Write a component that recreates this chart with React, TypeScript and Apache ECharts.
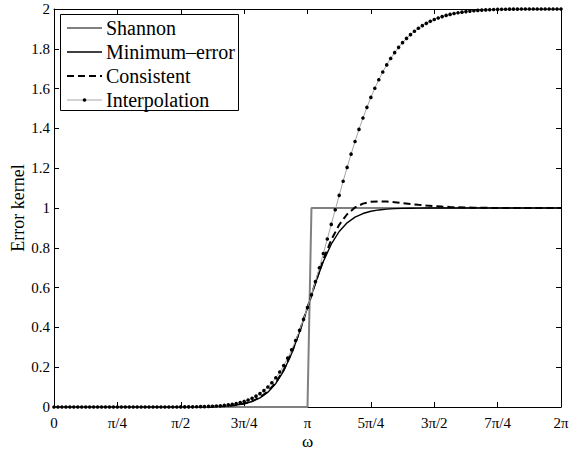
import React, { useEffect, useRef } from "react";
import * as echarts from "echarts";

// ---------- data ----------
const xTickLabels = ["0", "π/4", "π/2", "3π/4", "π", "5π/4", "3π/2", "7π/4", "2π"];
const yTickLabels = ["0", "0.2", "0.4", "0.6", "0.8", "1", "1.2", "1.4", "1.6", "1.8", "2"];
const seriesNames = ["Shannon", "Minimum–error", "Consistent", "Interpolation"];

// Shannon: breakpoints on the π/64 sampling grid (grid index) and their values
const shannonGridIndex = [0, 64, 65, 128];
const shannonValues = [0, 0, 1, 1];

// Minimum-error kernel, 65 samples from 0 to 2π (step π/32)
const minimumErrorValues = [
  0, 0, 0, 0, 0, 0, 0, 0,
  0, 0, 0, 0, 0, 0, 0, 0,
  0.00016, 0.0003, 0.00056, 0.00101, 0.00187, 0.00323, 0.00565, 0.00974,
  0.01652, 0.02777, 0.04588, 0.0745, 0.11818, 0.18187, 0.26879, 0.37759,
  0.50008, 0.62255, 0.73135, 0.81825, 0.88191, 0.92558, 0.95417, 0.97228,
  0.98348, 0.99029, 0.99437, 0.99677, 0.99818, 0.99899, 0.99945, 0.99971,
  0.99985, 0.99992, 0.99996, 0.99998, 0.99999, 1, 1, 1,
  1, 1, 1, 1, 1, 1, 1, 1,
  1,
];

// Consistent kernel, 65 samples from 0 to 2π (step π/32)
const consistentValues = [
  0, 0, 0, 0, 0, 0, 0, 0,
  0, 0, 0, 0, 0, 0, 0, 0,
  0.00016, 0.0003, 0.00057, 0.00103, 0.00188, 0.00335, 0.00587, 0.01018,
  0.01737, 0.02923, 0.04829, 0.07807, 0.12283, 0.18679, 0.2726, 0.37909,
  0.50007, 0.62482, 0.74123, 0.83969, 0.91548, 0.9687, 1.00268, 1.02199,
  1.03106, 1.03355, 1.03216, 1.02876, 1.02452, 1.02018, 1.01613, 1.01257,
  1.00957, 1.00712, 1.00518, 1.00367, 1.00253, 1.0017, 1.0011, 1.00068,
  1.0004, 1.00022, 1.00011, 1.00005, 1.00002, 1, 1, 1,
  1,
];

// Interpolation kernel, 129 samples from 0 to 2π (step π/64)
const interpolationValues = [
  0, 0, 0, 0, 0, 0, 0, 0,
  0, 0, 0, 0, 0, 0, 0, 0,
  0, 0, 0, 0, 0, 0, 0, 0,
  0, 0, 0, 0, 0.0001, 0.00014, 0.0002, 0.00027,
  0.00036, 0.0005, 0.00067, 0.0009, 0.00123, 0.00162, 0.00216, 0.00285,
  0.00375, 0.00491, 0.00639, 0.00827, 0.01066, 0.01367, 0.01744, 0.02213,
  0.02794, 0.0351, 0.04384, 0.05445, 0.06723, 0.08252, 0.10064, 0.12198,
  0.14685, 0.1756, 0.20849, 0.24577, 0.28762, 0.33406, 0.38508, 0.44055,
  0.50018, 0.5636, 0.6303, 0.69972, 0.77121, 0.84403, 0.9175, 0.99088,
  1.06348, 1.13467, 1.20387, 1.27059, 1.33441, 1.39503, 1.45219, 1.50577,
  1.55567, 1.60189, 1.64448, 1.68352, 1.71916, 1.75154, 1.78084, 1.80726,
  1.83099, 1.85224, 1.8712, 1.88806, 1.90301, 1.91623, 1.92788, 1.93812,
  1.9471, 1.95493, 1.96176, 1.96768, 1.97281, 1.97721, 1.98103, 1.98428,
  1.98705, 1.98939, 1.99138, 1.99305, 1.99444, 1.99559, 1.99654, 1.99732,
  1.99795, 1.99845, 1.99885, 1.99917, 1.99941, 1.99959, 1.99973, 1.99982,
  1.9999, 1.99994, 1.99996, 1.99998, 1.99999, 2, 2, 2,
  2,
];

// ---------- styles ----------
const FONT = "Liberation Serif";
const shannonStyle = { color: "#808080", width: 2 };
const minErrStyle = { color: "#000000", width: 1.4 };
const consStyle = { color: "#000000", width: 2, dash: [7, 4] };
const interpStyle = { color: "#a6a6a6", width: 1, marker: "#000000", markerSize: 3.6 };

// x values in units of π (0..2)
const toPairs = (vals: number[]) =>
  vals.map((v, i) => [(i * 2) / (vals.length - 1), v]);

export default function App() {
  const ref = useRef<HTMLDivElement>(null);

  useEffect(() => {
    if (!ref.current) return;
    const chart = echarts.init(ref.current, undefined, { renderer: "svg" });

    const axisLineStyle = { color: "#000", width: 1 };
    const xLabelFmt = (v: number) => xTickLabels[Math.round(v / 0.25)] ?? "";
    const yLabelFmt = (v: number) => yTickLabels[Math.round(v / 0.2)] ?? "";

    const legendRows = [28, 52, 76, 100];
    const lx1 = 67;
    const lx2 = 102;
    const tx = 106;

    const option: any = {
      animation: false,
      backgroundColor: "#ffffff",
      textStyle: { fontFamily: FONT },
      grid: {
        left: 54,
        right: 11,
        top: 9,
        bottom: 43,
        containLabel: false,
        outerBoundsMode: "none",
      },
      xAxis: [
        {
          type: "value",
          min: 0,
          max: 2,
          interval: 0.25,
          position: "bottom",
          axisLine: { show: true, onZero: false, lineStyle: axisLineStyle },
          axisTick: { show: true, inside: true, length: 5, lineStyle: axisLineStyle },
          axisLabel: {
            formatter: xLabelFmt,
            color: "#000",
            fontFamily: FONT,
            fontSize: 15,
            margin: 8,
            showMinLabel: true,
            showMaxLabel: true,
          },
          splitLine: { show: false },
          name: "ω",
          nameLocation: "middle",
          nameGap: 26,
          nameMoveOverlap: false,
          nameTextStyle: { fontFamily: FONT, fontSize: 17, color: "#000" },
        },
        {
          type: "value",
          min: 0,
          max: 2,
          interval: 0.25,
          position: "top",
          axisLine: { show: true, onZero: false, lineStyle: axisLineStyle },
          axisTick: { show: true, inside: true, length: 5, lineStyle: axisLineStyle },
          axisLabel: { show: false },
          splitLine: { show: false },
        },
      ],
      yAxis: [
        {
          type: "value",
          min: 0,
          max: 2,
          interval: 0.2,
          position: "left",
          axisLine: { show: true, onZero: false, lineStyle: axisLineStyle },
          axisTick: { show: true, inside: true, length: 5, lineStyle: axisLineStyle },
          axisLabel: {
            formatter: yLabelFmt,
            color: "#000",
            fontFamily: FONT,
            fontSize: 15,
            margin: 4,
            showMinLabel: true,
            showMaxLabel: true,
          },
          splitLine: { show: false },
          name: "Error kernel",
          nameLocation: "middle",
          nameGap: 27,
          nameRotate: 90,
          nameMoveOverlap: false,
          nameTextStyle: { fontFamily: FONT, fontSize: 18, color: "#000" },
        },
        {
          type: "value",
          min: 0,
          max: 2,
          interval: 0.2,
          position: "right",
          axisLine: { show: true, onZero: false, lineStyle: axisLineStyle },
          axisTick: { show: true, inside: true, length: 5, lineStyle: axisLineStyle },
          axisLabel: { show: false },
          splitLine: { show: false },
        },
      ],
      series: [
        {
          name: seriesNames[0],
          type: "line",
          xAxisIndex: 0,
          yAxisIndex: 0,
          data: shannonGridIndex.map((g, i) => [g / 64, shannonValues[i]]),
          showSymbol: false,
          symbol: "none",
          clip: false,
          lineStyle: { color: shannonStyle.color, width: shannonStyle.width },
          z: 2,
        },
        {
          name: seriesNames[1],
          type: "line",
          xAxisIndex: 0,
          yAxisIndex: 0,
          data: toPairs(minimumErrorValues),
          symbol: "none",
          clip: false,
          lineStyle: { color: minErrStyle.color, width: minErrStyle.width },
          z: 3,
        },
        {
          name: seriesNames[2],
          type: "line",
          xAxisIndex: 0,
          yAxisIndex: 0,
          data: toPairs(consistentValues),
          symbol: "none",
          clip: false,
          lineStyle: { color: consStyle.color, width: consStyle.width, type: consStyle.dash },
          z: 4,
        },
        {
          name: seriesNames[3],
          type: "line",
          xAxisIndex: 0,
          yAxisIndex: 0,
          data: toPairs(interpolationValues),
          symbol: "circle",
          symbolSize: interpStyle.markerSize,
          showSymbol: true,
          showAllSymbol: true,
          clip: false,
          lineStyle: { color: interpStyle.color, width: interpStyle.width },
          itemStyle: { color: interpStyle.marker, borderWidth: 0 },
          z: 5,
        },
      ],
      graphic: [
        {
          type: "group",
          z: 100,
          children: [
            {
              type: "rect",
              shape: { x: 60.5, y: 14.5, width: 178, height: 96 },
              style: { fill: "#ffffff", stroke: "#000000", lineWidth: 1 },
            },
            {
              type: "line",
              shape: { x1: lx1, y1: legendRows[0], x2: lx2, y2: legendRows[0] },
              style: { stroke: shannonStyle.color, lineWidth: shannonStyle.width },
            },
            {
              type: "line",
              shape: { x1: lx1, y1: legendRows[1], x2: lx2, y2: legendRows[1] },
              style: { stroke: minErrStyle.color, lineWidth: minErrStyle.width },
            },
            {
              type: "line",
              shape: { x1: lx1, y1: legendRows[2], x2: lx2, y2: legendRows[2] },
              style: { stroke: consStyle.color, lineWidth: consStyle.width, lineDash: consStyle.dash },
            },
            {
              type: "line",
              shape: { x1: lx1, y1: legendRows[3], x2: lx2, y2: legendRows[3] },
              style: { stroke: interpStyle.color, lineWidth: interpStyle.width },
            },
            {
              type: "circle",
              shape: { cx: (lx1 + lx2) / 2, cy: legendRows[3], r: interpStyle.markerSize / 2 },
              style: { fill: interpStyle.marker },
            },
            ...seriesNames.map((name, i) => ({
              type: "text",
              x: tx,
              y: legendRows[i],
              style: {
                text: name,
                fontFamily: FONT,
                fontSize: 20,
                fill: "#000",
                align: "left",
                verticalAlign: "middle",
              },
            })),
          ],
        },
      ],
    };

    chart.setOption(option);
    return () => {
      chart.dispose();
    };
  }, []);

  return (
    <div
      ref={ref}
      style={{
        position: "fixed",
        left: 0,
        top: 0,
        width: 572,
        height: 450,
        background: "#fff",
      }}
    />
  );
}
